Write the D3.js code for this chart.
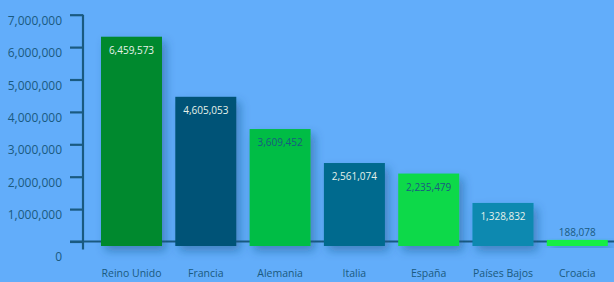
<!DOCTYPE html>
<html><head><meta charset="utf-8">
<script src="https://cdn.jsdelivr.net/npm/d3@7"></script>
<style>html,body{margin:0;padding:0;background:#62adfa;overflow:hidden}</style>
</head><body>
<svg id="c" width="614" height="282"></svg>
<script>
const categories = ["Reino Unido","Francia","Alemania","Italia","España","Países Bajos","Croacia"];
const values = [6459573,4605053,3609452,2561074,2235479,1328832,188078];
const barColors = ["#05892f","#025377","#06bd45","#046a8e","#0ad94a","#0789b0","#13ee45"];
const labelColors = ["#e6f2ea","#e6f2ea","#1a5a80","#e6f2ea","#1a5a80","#e6f2ea","#1a5a80"];
const yTicks = [0,1000000,2000000,3000000,4000000,5000000,6000000,7000000];

const svg = d3.select("#c");
const axisColor = "#1a5a80";
const font = "'Open Sans', sans-serif";

const defs = svg.append("defs");
const f = defs.append("filter").attr("id","sh").attr("x","-30%").attr("y","-30%").attr("width","160%").attr("height","160%");
f.append("feDropShadow").attr("dx",4).attr("dy",5).attr("stdDeviation",5).attr("flood-color","#1a4f80").attr("flood-opacity",0.45);

const x = d3.scaleBand().domain(categories).range([94.35, 94.35 + 74.3*7]).paddingInner(0.179).paddingOuter(0.0895);
const y = d3.scaleLinear().domain([0,7000000]).range([246, 19.2]);

// axis (offset slightly above bar base as in reference)
const ax = svg.append("g").attr("transform","translate(83,-4.5)")
  .call(d3.axisLeft(y).tickValues(yTicks).tickSize(13).tickSizeOuter(0).tickFormat(d3.format(",")));
ax.select(".domain").attr("stroke",axisColor).attr("stroke-width",2.2).attr("d","M0,"+y(7000000)+"V"+(y(0)+8));
ax.selectAll(".tick line").attr("stroke",axisColor).attr("stroke-width",2.2);
ax.selectAll(".tick text").attr("fill",axisColor).style("font-family",font).style("font-size","12px")
  .attr("x",-21).attr("dy",d => d===0 ? "1.6em" : "0.8em");

// baseline
svg.append("line").attr("x1",70).attr("x2",614).attr("y1",y(0)-4.5).attr("y2",y(0)-4.5)
  .attr("stroke",axisColor).attr("stroke-width",2.2);

// bars
svg.append("g").selectAll("rect").data(values).join("rect")
  .attr("x",(d,i)=>x(categories[i])).attr("width",x.bandwidth())
  .attr("y",d=>y(d)).attr("height",d=>y(0)-y(d))
  .attr("fill",(d,i)=>barColors[i]).attr("filter","url(#sh)");

// value labels
svg.append("g").selectAll("text").data(values).join("text")
  .attr("x",(d,i)=>x(categories[i])+x.bandwidth()/2)
  .attr("y",d=> (y(0)-y(d) > 20) ? y(d)+17 : y(d)-4)
  .attr("text-anchor","middle").attr("fill",(d,i)=>labelColors[i])
  .style("font-family",font).style("font-size","10px")
  .text(d=>d3.format(",")(d));

// category labels
svg.append("g").selectAll("text").data(categories).join("text")
  .attr("x",d=>x(d)+x.bandwidth()/2).attr("y",277)
  .attr("text-anchor","middle").attr("fill",axisColor)
  .style("font-family",font).style("font-size","10.5px")
  .text(d=>d);
</script>
</body></html>
